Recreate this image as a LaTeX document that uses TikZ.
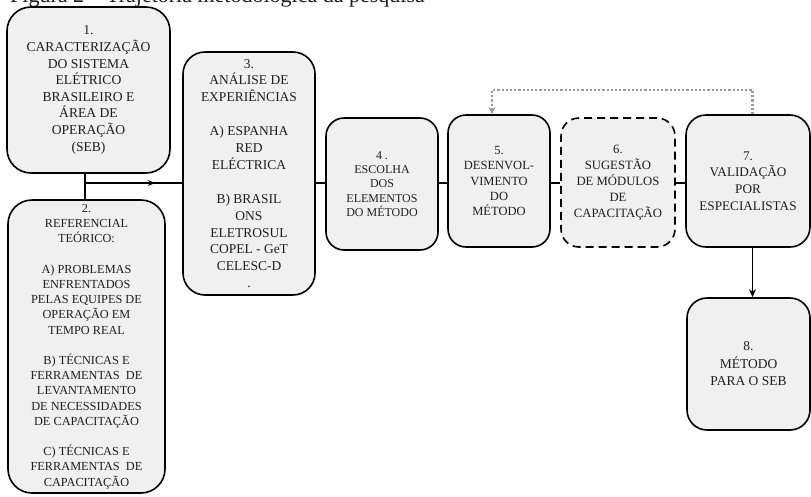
\documentclass[tikz,border=0pt]{standalone}
\usepackage{fontspec}
\setmainfont{Liberation Serif}[Ligatures=TeX]
\newfontfamily\stagefont{Liberation Serif}[Ligatures=TeX]
\usetikzlibrary{arrows.meta,decorations.markings,calc}

\definecolor{boxfill}{HTML}{F0F0F0}
\definecolor{txt}{HTML}{1E1E1E}
\definecolor{loopgray}{HTML}{9A9A9A}

\newcommand{\fs}[2]{\stagefont\fontsize{#1}{#2}\selectfont}

\tikzset{
  stage/.style={draw=black, fill=boxfill, line width=1.6pt,
    rounded corners=#1, align=center, inner sep=0pt, text=txt},
  stage/.default=18pt,
  optional/.style={dash pattern=on 8pt off 5pt},
  link/.style={line width=1.9pt, draw=black},
  flowarrow/.style={-{Stealth[length=8pt,width=7pt]}},
  midarrow/.style={postaction={decorate}, decoration={markings,
    mark=at position 0.72 with {\arrow{Stealth[length=7pt,width=6pt]}}}},
  feedback/.style={draw=loopgray, line width=2.2pt, dash pattern=on 2.2pt off 2pt,
    -{Stealth[length=7pt,width=7pt,fill=loopgray]}},
}

\begin{document}
\begin{tikzpicture}[x=1pt, y=-1pt]
  \useasboundingbox (0,0) rectangle (811,496);
  \clip (0,0) rectangle (811,496);

  % figure caption (runs above the page top)
  \node[anchor=base west, inner sep=0pt, font=\fs{22}{26}, text=txt]
    (caption) at (10,2) {Figura 2 – Trajetória metodológica da pesquisa};

  % stages
  \node[stage=24pt, minimum width=163pt, minimum height=166pt,
        font=\fs{13.6}{16.6}] (n1) at (88.5,90)
    {1.\\CARACTERIZAÇÃO\\DO SISTEMA\\ELÉTRICO\\BRASILEIRO E\\ÁREA DE\\OPERAÇÃO\\(SEB)};

  \node[stage=24pt, minimum width=157pt, minimum height=293pt,
        font=\fs{12.3}{15.2}] (n2) at (86.5,346.5)
    {2.\\REFERENCIAL\\TEÓRICO:\\[15.2pt]A) PROBLEMAS\\ENFRENTADOS\\PELAS EQUIPES DE\\OPERAÇÃO EM\\TEMPO REAL\\[15.2pt]B) TÉCNICAS E\\FERRAMENTAS\ \ DE\\LEVANTAMENTO\\DE NECESSIDADES\\DE CAPACITAÇÃO\\[15.2pt]C) TÉCNICAS E\\FERRAMENTAS\ \ DE\\CAPACITAÇÃO};

  \node[stage=22pt, minimum width=132pt, minimum height=243pt,
        font=\fs{13.5}{16.9}] (n3) at (249,173.5)
    {3.\\ANÁLISE DE\\EXPERIÊNCIAS\\[16.9pt]A) ESPANHA\\RED\\ELÉCTRICA\\[16.9pt]B) BRASIL\\ONS\\ELETROSUL\\COPEL - GeT\\CELESC-D\\.};

  \node[stage, minimum width=112pt, minimum height=132pt,
        font=\fs{12}{14.3}] (n4) at (382,184)
    {4 .\\ESCOLHA\\DOS\\ELEMENTOS\\DO MÉTODO};

  \node[stage, minimum width=102pt, minimum height=132pt,
        font=\fs{12.5}{15.2}] (n5) at (499,181)
    {5.\\DESENVOL-\\VIMENTO\\DO\\MÉTODO};

  \node[stage, optional, minimum width=114pt, minimum height=129pt,
        font=\fs{12.7}{16}] (n6) at (618,182.5)
    {6.\\SUGESTÃO\\DE MÓDULOS\\DE\\CAPACITAÇÃO};

  \node[stage=20pt, minimum width=124pt, minimum height=132pt,
        font=\fs{13.2}{16.7}] (n7) at (748,181)
    {7.\\VALIDAÇÃO\\POR\\ESPECIALISTAS};

  \node[stage=20pt, minimum width=123pt, minimum height=132pt,
        font=\fs{13.5}{17.5}] (n8) at (748.5,364)
    {8.\\MÉTODO\\PARA O SEB};

  % routing points
  \coordinate (j) at (85,183);
  \coordinate (vx) at (752.5,270);
  \coordinate (top7) at (752.5,90);
  \coordinate (top5) at (492,90);

  % main flow
  \draw[link] (n1.south -| j) -- (n2.north -| j);
  \draw[link, midarrow] (j) -- (n3.west |- j);
  \draw[link] (n3.east |- j) -- (n4.west |- j);
  \draw[link] (n4.east |- j) -- (n5.west |- j);
  \draw[link] (n5.east |- j) -- (n6.west |- j);
  \draw[link] (n6.east |- j) -- (n7.west |- j);
  \draw[link, flowarrow] (n7.south -| vx) -- (n8.north -| vx);

  % revision loop from validation back to development
  \draw[feedback] (n7.north -| top7) -- (top7) -- (top5) -- (n5.north -| top5);
\end{tikzpicture}
\end{document}
